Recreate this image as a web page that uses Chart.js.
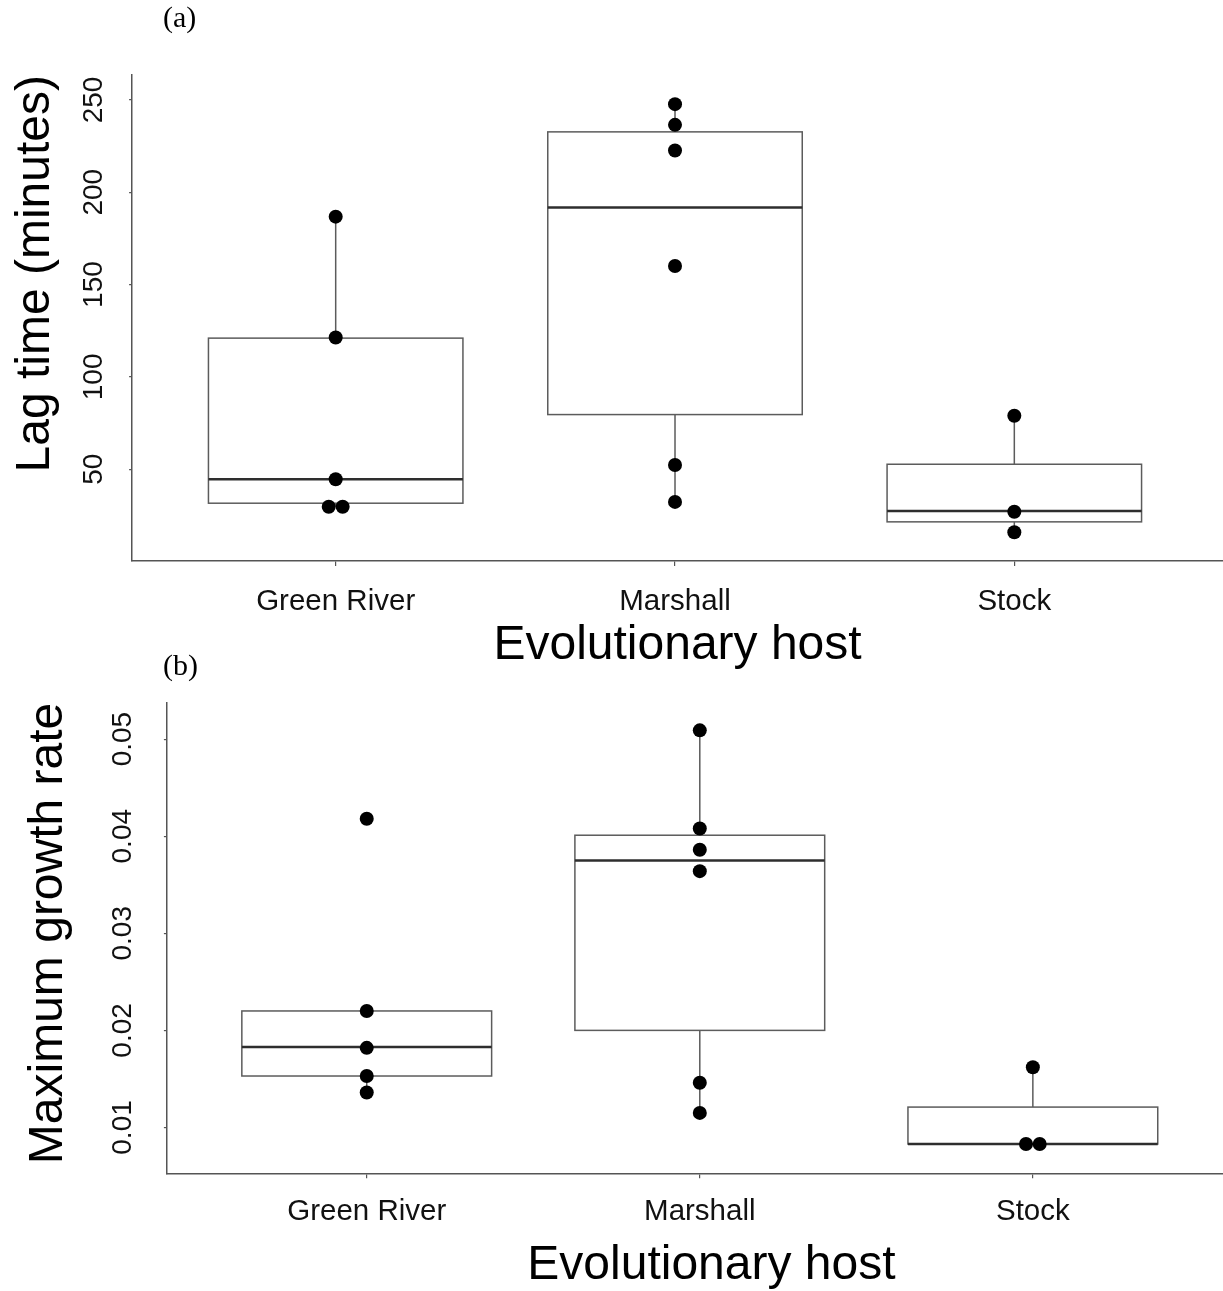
<!DOCTYPE html>
<html>
<head>
<meta charset="utf-8">
<script src="https://cdn.jsdelivr.net/npm/chart.js@4/dist/chart.umd.min.js"></script>
<style>
  html, body { margin: 0; padding: 0; background: #fff; overflow: hidden; width: 1223px; height: 1291px; }
  canvas { position: absolute; left: 0; }
  #lag { top: 0; }
  #growth { top: 640px; }
</style>
</head>
<body>
<canvas id="lag" width="1223" height="680"></canvas>
<canvas id="growth" width="1290" height="651"></canvas>
<script>
const hosts = ['Green River', 'Marshall', 'Stock'];

// (a) lag time, minutes
const lagTicks = [50, 100, 150, 200, 250];
const lagDots = [
  [29.7, 29.7, 44.6, 121.3, 186.8],
  [247.7, 236.5, 222.6, 160.1, 52.3, 32.3],
  [79.0, 27.0, 15.9]
];
// lower whisker, Q1, median, Q3, upper whisker
const lagBoxes = [
  [29.7, 31.6, 44.6, 121.0, 186.8],
  [32.3, 79.6, 191.7, 232.7, 247.7],
  [15.9, 21.5, 27.4, 52.7, 79.0]
];

// (b) maximum growth rate
const rateTicks = [0.01, 0.02, 0.03, 0.04, 0.05];
const rateDots = [
  [0.0418, 0.0220, 0.0182, 0.0153, 0.0136],
  [0.0509, 0.0408, 0.0386, 0.0364, 0.0146, 0.0115],
  [0.0162, 0.0083, 0.0083]
];
const rateBoxes = [
  [0.0136, 0.0153, 0.0183, 0.0220, 0.0220],
  [0.0115, 0.0200, 0.0375, 0.0401, 0.0509],
  [0.0083, 0.0083, 0.0083, 0.0121, 0.0162]
];

const SANS = '"Liberation Sans", Arial, Helvetica, sans-serif';
const SERIF = '"Liberation Serif", "Times New Roman", serif';
const DOT_STEP = 0.041;    // horizontal spacing of tied dots, in category units
const BOX_HALF = 0.375;    // half box width, in category units

// Dots sharing a value sit side by side, centred on the category.
function dotPoints(groups) {
  const pts = [];
  groups.forEach((vals, i) => {
    const counts = new Map();
    vals.forEach(v => counts.set(v, (counts.get(v) || 0) + 1));
    counts.forEach((n, v) => {
      for (let k = 0; k < n; k++) {
        pts.push({ x: i + 1 + (k - (n - 1) / 2) * DOT_STEP, y: v });
      }
    });
  });
  return pts;
}

function boxPlugin(boxes) {
  return {
    id: 'boxes',
    beforeDatasetsDraw(chart) {
      const { ctx, scales: { x, y } } = chart;
      boxes.forEach((b, i) => {
        const c = i + 1;
        const xl = x.getPixelForValue(c - BOX_HALF);
        const xr = x.getPixelForValue(c + BOX_HALF);
        const xc = x.getPixelForValue(c);
        const [lo, q1, med, q3, hi] = b.map(v => y.getPixelForValue(v));
        ctx.save();
        ctx.strokeStyle = '#5c5c5c';
        ctx.lineWidth = 1.5;
        ctx.beginPath();
        ctx.moveTo(xc, q3); ctx.lineTo(xc, hi);
        ctx.moveTo(xc, q1); ctx.lineTo(xc, lo);
        ctx.stroke();
        ctx.fillStyle = '#fff';
        ctx.fillRect(xl, q3, xr - xl, q1 - q3);
        ctx.strokeRect(xl, q3, xr - xl, q1 - q3);
        ctx.strokeStyle = '#2e2e2e';
        ctx.lineWidth = 2.5;
        ctx.beginPath();
        ctx.moveTo(xl, med); ctx.lineTo(xr, med);
        ctx.stroke();
        ctx.restore();
      });
    }
  };
}

function tagPlugin(text, px, py) {
  return {
    id: 'tag',
    afterDraw(chart) {
      const ctx = chart.ctx;
      ctx.save();
      ctx.font = '30px ' + SERIF;
      ctx.fillStyle = '#000';
      ctx.textBaseline = 'alphabetic';
      ctx.fillText(text, px, py);
      ctx.restore();
    }
  };
}

function makeChart(id, cfg) {
  return new Chart(document.getElementById(id), {
    type: 'scatter',
    data: {
      datasets: [{
        data: dotPoints(cfg.dots),
        pointRadius: 7,
        pointHoverRadius: 7,
        pointBackgroundColor: '#000',
        pointBorderWidth: 0,
        showLine: false
      }]
    },
    options: {
      responsive: false,
      animation: false,
      devicePixelRatio: 1,
      events: [],
      layout: { padding: cfg.padding, autoPadding: false },
      plugins: { legend: { display: false }, tooltip: { enabled: false } },
      scales: {
        x: {
          type: 'linear',
          min: 0.4,
          max: cfg.xMax,
          afterBuildTicks: s => { s.ticks = hosts.map((h, i) => ({ value: i + 1 })); },
          afterFit: s => { s.height = cfg.xHeight; },
          ticks: {
            autoSkip: false,
            maxRotation: 0,
            padding: cfg.xTickPad,
            color: '#111',
            font: { family: SANS, size: 29.5 },
            callback: (v, i) => hosts[i]
          },
          grid: { drawOnChartArea: false, drawTicks: true, tickLength: 5, color: '#555', lineWidth: 1.2 },
          border: { display: true, color: '#555', width: 1.5 },
          title: {
            display: true,
            text: 'Evolutionary host',
            color: '#000',
            font: { family: SANS, size: 48, lineHeight: 1 },
            padding: { top: 0, bottom: cfg.xTitlePad }
          }
        },
        y: {
          type: 'linear',
          min: cfg.yMin,
          max: cfg.yMax,
          afterBuildTicks: s => { s.ticks = cfg.ticks.map(v => ({ value: v })); },
          afterFit: s => { s.width = cfg.yWidth; },
          ticks: {
            autoSkip: false,
            minRotation: 90,
            maxRotation: 90,
            crossAlign: 'center',
            padding: cfg.yTickPad,
            color: '#111',
            font: { family: SANS, size: 28 },
            callback: cfg.fmt
          },
          grid: { drawOnChartArea: false, drawTicks: true, tickLength: 3, color: '#555', lineWidth: 1.2 },
          border: { display: true, color: '#555', width: 1.5 },
          title: {
            display: true,
            text: cfg.yTitle,
            align: 'end',
            color: '#000',
            font: { family: SANS, size: 48, lineHeight: 1 },
            padding: { top: cfg.yTitlePad, bottom: 0 }
          }
        }
      }
    },
    plugins: [boxPlugin(cfg.boxes), tagPlugin(cfg.tag, cfg.tagX, cfg.tagY)]
  });
}

makeChart('lag', {
  dots: lagDots,
  boxes: lagBoxes,
  ticks: lagTicks,
  fmt: v => String(v),
  yMin: 0.3,
  yMax: 263.5,
  xMax: 3.615,
  yTitle: 'Lag time (minutes)',
  padding: { left: 0, top: 75, right: 0, bottom: 0 },
  yWidth: 132.1,
  xHeight: 119,
  xTickPad: 18,
  xTitlePad: 10,
  yTickPad: 11,
  yTitlePad: 12,
  tag: '(a)', tagX: 163, tagY: 27
});

makeChart('growth', {
  dots: rateDots,
  boxes: rateBoxes,
  ticks: rateTicks,
  fmt: v => v.toFixed(2),
  yMin: 0.00528,
  yMax: 0.05375,
  xMax: 3.67,
  yTitle: 'Maximum growth rate',
  padding: { left: 0, top: 62.7, right: 34, bottom: 0 },
  yWidth: 166.9,
  xHeight: 117.7,
  xTickPad: 16,
  xTitlePad: 1.5,
  yTickPad: 13.6,
  yTitlePad: 25,
  tag: '(b)', tagX: 163, tagY: 35
});
</script>
</body>
</html>
